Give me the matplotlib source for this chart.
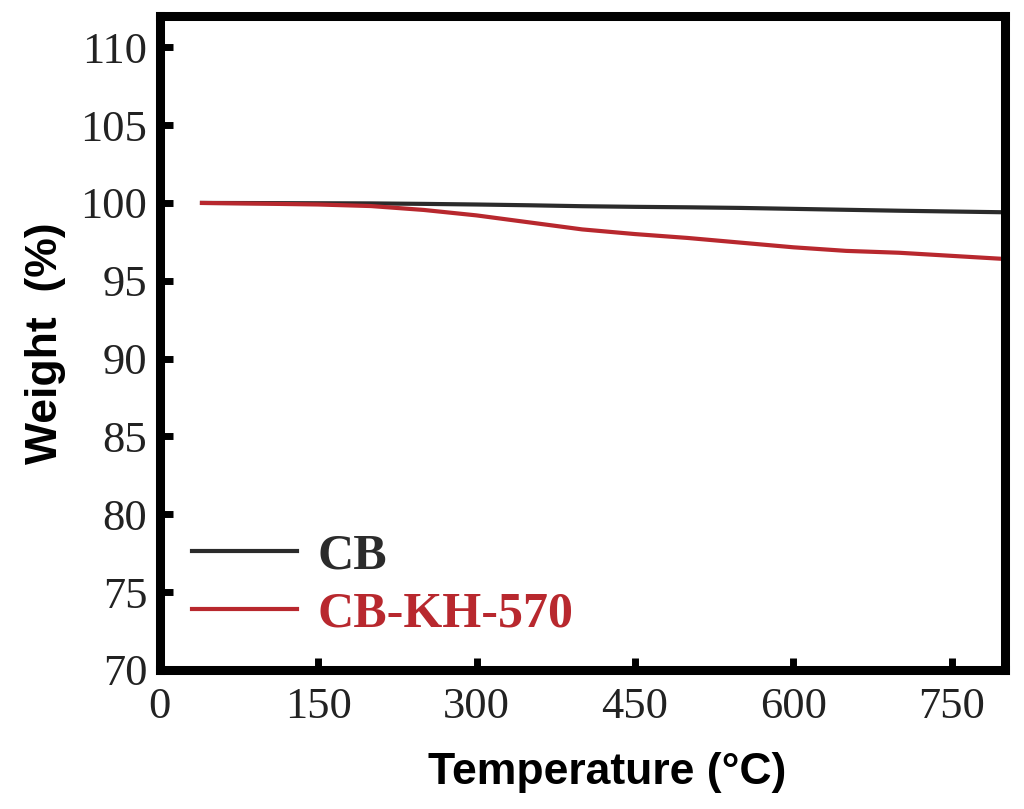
import numpy as np
import matplotlib.pyplot as plt
from matplotlib.ticker import MultipleLocator

# TGA curves
temp = [40, 100, 150, 200, 250, 300, 350, 400, 450, 500, 550, 600, 650, 700, 750, 800]
cb = [100.0, 99.99, 99.98, 99.97, 99.94, 99.9, 99.85, 99.79, 99.75, 99.72, 99.68, 99.62, 99.56, 99.5, 99.45, 99.4]
cb_kh570 = [100.0, 99.95, 99.9, 99.8, 99.55, 99.2, 98.75, 98.3, 98.0, 97.75, 97.45, 97.15, 96.92, 96.8, 96.6, 96.4]

xticks = [0, 150, 300, 450, 600, 750]
yticks = [70, 75, 80, 85, 90, 95, 100, 105, 110]

fig = plt.figure(figsize=(10.24, 8.09), dpi=100)
ax = fig.add_axes([0.156, 0.172, 0.825, 0.808])

black = '#2b2b2b'
red = '#b8282e'
ax.plot(temp, cb, color=black, lw=3, label='CB')
ax.plot(temp, cb_kh570, color=red, lw=3, label='CB-KH-570')

ax.set_xlim(0, 800)
ax.set_ylim(70, 112)
ax.set_xticks(xticks)
ax.set_yticks(yticks)
ax.xaxis.set_minor_locator(MultipleLocator(75))

for s in ax.spines.values():
    s.set_linewidth(6.5)
ax.tick_params(which='major', direction='in', length=9, width=5)
ax.tick_params(axis='x', which='major', pad=12)
ax.tick_params(axis='y', which='major', pad=9)
ax.tick_params(which='minor', direction='in', length=3, width=3)
ax.tick_params(axis='y', which='minor', length=0)

for lab in ax.get_xticklabels() + ax.get_yticklabels():
    lab.set_fontfamily('Liberation Serif')
    lab.set_fontsize(32)
    lab.set_color('#222222')

ax.set_xlabel('Temperature (°C)', fontsize=32, fontweight='bold',
              fontfamily='Liberation Sans')
ax.xaxis.set_label_coords(0.53, -0.125)
ax.set_ylabel('Weight  (%)', fontsize=32, fontweight='bold',
              fontfamily='Liberation Sans', labelpad=10)

leg = ax.legend(loc='lower left', frameon=False, handlelength=2.1, handletextpad=0.4,
                labelspacing=0.24, borderaxespad=0.25,
                prop={'family': 'Liberation Serif', 'weight': 'bold', 'size': 36})
for txt, c in zip(leg.get_texts(), [black, red]):
    txt.set_color(c)

fig.savefig('out.png', dpi=100)
